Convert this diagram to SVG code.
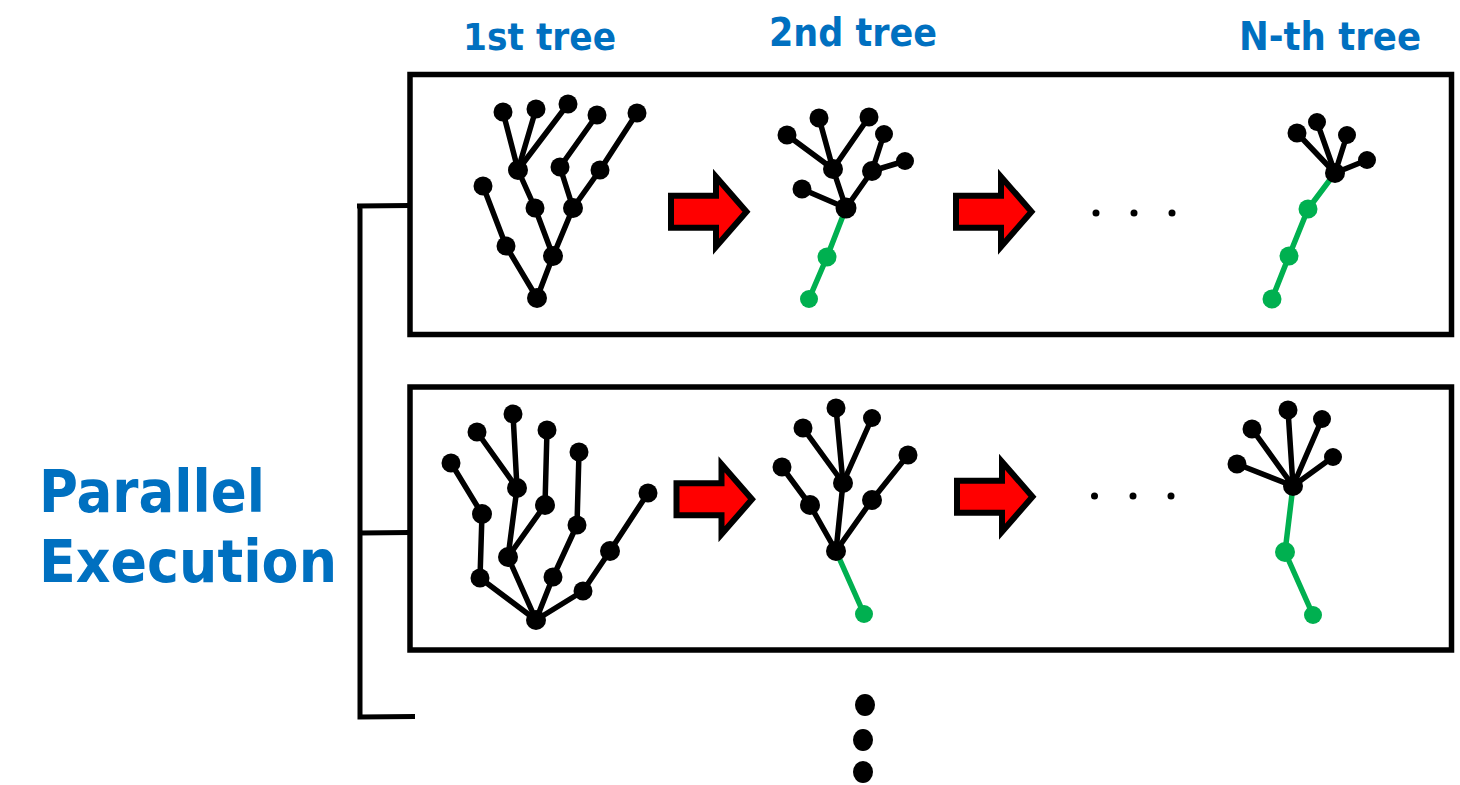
<svg xmlns="http://www.w3.org/2000/svg" xmlns:xlink="http://www.w3.org/1999/xlink" width="1460" height="785" viewBox="0 0 1460 785">
<style>
.lbl{font-family:"DejaVu Sans","Liberation Sans",sans-serif;font-weight:bold;fill:#0070C0}
.frame{fill:none;stroke:#000;stroke-width:5.5}
.br{fill:none;stroke:#000;stroke-width:5}
.e{stroke:#000;stroke-width:5.5;stroke-linecap:round}
.g{stroke:#00B050;stroke-width:5.5;stroke-linecap:round}
.n{fill:#000}
.gn{fill:#00B050}
.arr{fill:#FF0000;stroke:#000;stroke-width:6;stroke-linejoin:miter}
</style>
<defs>
<path id="arrow" class="arr" d="M3,-16 L48,-16 L48,-35 L78.5,0 L48,35 L48,16 L3,16 Z"/>
</defs>
<rect width="1460" height="785" fill="#fff"/>

<g id="labels">
<text class="lbl" x="463" y="50" font-size="38" textLength="153" lengthAdjust="spacingAndGlyphs">1st tree</text>
<text class="lbl" x="769" y="46" font-size="39" textLength="168" lengthAdjust="spacingAndGlyphs">2nd tree</text>
<text class="lbl" x="1239" y="49.5" font-size="39" textLength="182" lengthAdjust="spacingAndGlyphs">N-th tree</text>
<text class="lbl" x="39" y="511.7" font-size="59" textLength="226" lengthAdjust="spacingAndGlyphs">Parallel</text>
<text class="lbl" x="39" y="581.7" font-size="59" textLength="298" lengthAdjust="spacingAndGlyphs">Execution</text>
</g>

<g id="frames">
<rect class="frame" x="410" y="74.5" width="1041.5" height="260"/>
<rect class="frame" x="410" y="387" width="1041.5" height="263"/>
</g>

<g id="connectors">
<path class="br" d="M357,206 L410,205.5 M360,206 L360,717 L415,716.5 M360,533 L410,532.5"/>
</g>

<g id="tree-top-1">
<line class="e" x1="503" y1="112" x2="518" y2="170"/>
<line class="e" x1="536" y1="109" x2="518" y2="170"/>
<line class="e" x1="568" y1="104" x2="518" y2="170"/>
<line class="e" x1="597" y1="115" x2="560" y2="167"/>
<line class="e" x1="637" y1="113" x2="600" y2="170"/>
<line class="e" x1="518" y1="170" x2="535" y2="208"/>
<line class="e" x1="535" y1="208" x2="553" y2="256"/>
<line class="e" x1="560" y1="167" x2="573" y2="208"/>
<line class="e" x1="600" y1="170" x2="573" y2="208"/>
<line class="e" x1="573" y1="208" x2="553" y2="256"/>
<line class="e" x1="483" y1="186" x2="506" y2="246"/>
<line class="e" x1="506" y1="246" x2="537" y2="298"/>
<line class="e" x1="553" y1="256" x2="537" y2="298"/>
<circle class="n" cx="503" cy="112" r="9.5"/>
<circle class="n" cx="536" cy="109" r="9.5"/>
<circle class="n" cx="568" cy="104" r="9.5"/>
<circle class="n" cx="597" cy="115" r="9.5"/>
<circle class="n" cx="637" cy="113" r="9.5"/>
<circle class="n" cx="518" cy="170" r="10"/>
<circle class="n" cx="560" cy="167" r="9.5"/>
<circle class="n" cx="600" cy="170" r="9.5"/>
<circle class="n" cx="483" cy="186" r="9.5"/>
<circle class="n" cx="535" cy="208" r="9.5"/>
<circle class="n" cx="573" cy="208" r="10"/>
<circle class="n" cx="506" cy="246" r="9.5"/>
<circle class="n" cx="553" cy="256" r="10"/>
<circle class="n" cx="537" cy="298" r="10"/>
</g>

<g id="tree-top-2">
<line class="e" x1="787" y1="135" x2="833" y2="169"/>
<line class="e" x1="819" y1="118" x2="833" y2="169"/>
<line class="e" x1="869" y1="117" x2="833" y2="169"/>
<line class="e" x1="884" y1="134" x2="872" y2="171"/>
<line class="e" x1="905" y1="161" x2="872" y2="171"/>
<line class="e" x1="802" y1="189" x2="846" y2="208"/>
<line class="e" x1="833" y1="169" x2="846" y2="208"/>
<line class="e" x1="872" y1="171" x2="846" y2="208"/>
<line class="g" x1="846" y1="208" x2="827" y2="257"/>
<line class="g" x1="827" y1="257" x2="809" y2="299"/>
<circle class="n" cx="787" cy="135" r="9.5"/>
<circle class="n" cx="819" cy="118" r="9.5"/>
<circle class="n" cx="869" cy="117" r="9.5"/>
<circle class="n" cx="884" cy="134" r="9"/>
<circle class="n" cx="905" cy="161" r="9"/>
<circle class="n" cx="802" cy="189" r="9.5"/>
<circle class="n" cx="833" cy="169" r="10"/>
<circle class="n" cx="872" cy="171" r="10"/>
<circle class="n" cx="846" cy="208" r="10.5"/>
<circle class="gn" cx="827" cy="257" r="9.5"/>
<circle class="gn" cx="809" cy="299" r="9"/>
</g>

<g id="tree-top-n">
<line class="e" x1="1297" y1="133" x2="1335" y2="173"/>
<line class="e" x1="1317" y1="122" x2="1335" y2="173"/>
<line class="e" x1="1347" y1="135" x2="1335" y2="173"/>
<line class="e" x1="1367" y1="160" x2="1335" y2="173"/>
<line class="g" x1="1335" y1="173" x2="1308" y2="209"/>
<line class="g" x1="1308" y1="209" x2="1289" y2="256"/>
<line class="g" x1="1289" y1="256" x2="1272" y2="299"/>
<circle class="n" cx="1297" cy="133" r="9.5"/>
<circle class="n" cx="1317" cy="122" r="9"/>
<circle class="n" cx="1347" cy="135" r="9"/>
<circle class="n" cx="1367" cy="160" r="9"/>
<circle class="n" cx="1335" cy="173" r="10"/>
<circle class="gn" cx="1308" cy="209" r="9.5"/>
<circle class="gn" cx="1289" cy="256" r="9.5"/>
<circle class="gn" cx="1272" cy="299" r="9.5"/>
</g>

<g id="tree-bottom-1">
<line class="e" x1="513" y1="414" x2="517" y2="488"/>
<line class="e" x1="477" y1="432" x2="517" y2="488"/>
<line class="e" x1="517" y1="488" x2="508" y2="557"/>
<line class="e" x1="547" y1="430" x2="545" y2="505"/>
<line class="e" x1="545" y1="505" x2="508" y2="557"/>
<line class="e" x1="451" y1="463" x2="482" y2="514"/>
<line class="e" x1="482" y1="514" x2="480" y2="578"/>
<line class="e" x1="480" y1="578" x2="536" y2="620"/>
<line class="e" x1="508" y1="557" x2="536" y2="620"/>
<line class="e" x1="579" y1="452" x2="577" y2="525"/>
<line class="e" x1="577" y1="525" x2="553" y2="577"/>
<line class="e" x1="553" y1="577" x2="536" y2="620"/>
<line class="e" x1="648" y1="493" x2="610" y2="551"/>
<line class="e" x1="610" y1="551" x2="583" y2="591"/>
<line class="e" x1="583" y1="591" x2="536" y2="620"/>
<circle class="n" cx="513" cy="414" r="9.5"/>
<circle class="n" cx="477" cy="432" r="9.5"/>
<circle class="n" cx="547" cy="430" r="9.5"/>
<circle class="n" cx="451" cy="463" r="9.5"/>
<circle class="n" cx="579" cy="452" r="9.5"/>
<circle class="n" cx="648" cy="493" r="9.5"/>
<circle class="n" cx="517" cy="488" r="10"/>
<circle class="n" cx="545" cy="505" r="10"/>
<circle class="n" cx="482" cy="514" r="10"/>
<circle class="n" cx="577" cy="525" r="9.5"/>
<circle class="n" cx="610" cy="551" r="10"/>
<circle class="n" cx="508" cy="557" r="10"/>
<circle class="n" cx="553" cy="577" r="9.5"/>
<circle class="n" cx="480" cy="578" r="9.5"/>
<circle class="n" cx="583" cy="591" r="9.5"/>
<circle class="n" cx="536" cy="620" r="10"/>
</g>

<g id="tree-bottom-2">
<line class="e" x1="836" y1="408" x2="843" y2="483"/>
<line class="e" x1="803" y1="428" x2="843" y2="483"/>
<line class="e" x1="872" y1="418" x2="843" y2="483"/>
<line class="e" x1="843" y1="483" x2="836" y2="551"/>
<line class="e" x1="782" y1="467" x2="810" y2="505"/>
<line class="e" x1="810" y1="505" x2="836" y2="551"/>
<line class="e" x1="908" y1="455" x2="872" y2="500"/>
<line class="e" x1="872" y1="500" x2="836" y2="551"/>
<line class="g" x1="836" y1="551" x2="864" y2="614"/>
<circle class="n" cx="836" cy="408" r="9.5"/>
<circle class="n" cx="803" cy="428" r="9.5"/>
<circle class="n" cx="872" cy="418" r="9"/>
<circle class="n" cx="782" cy="467" r="9.5"/>
<circle class="n" cx="908" cy="455" r="9.5"/>
<circle class="n" cx="843" cy="483" r="10"/>
<circle class="n" cx="810" cy="505" r="10"/>
<circle class="n" cx="872" cy="500" r="10"/>
<circle class="n" cx="836" cy="551" r="10"/>
<circle class="gn" cx="864" cy="614" r="9"/>
</g>

<g id="tree-bottom-n">
<line class="e" x1="1237" y1="464" x2="1293" y2="486"/>
<line class="e" x1="1252" y1="429" x2="1293" y2="486"/>
<line class="e" x1="1288" y1="410" x2="1293" y2="486"/>
<line class="e" x1="1322" y1="419" x2="1293" y2="486"/>
<line class="e" x1="1333" y1="457" x2="1293" y2="486"/>
<line class="g" x1="1293" y1="486" x2="1285" y2="552"/>
<line class="g" x1="1285" y1="552" x2="1313" y2="615"/>
<circle class="n" cx="1237" cy="464" r="9.5"/>
<circle class="n" cx="1252" cy="429" r="9.5"/>
<circle class="n" cx="1288" cy="410" r="9.5"/>
<circle class="n" cx="1322" cy="419" r="9"/>
<circle class="n" cx="1333" cy="457" r="9"/>
<circle class="n" cx="1293" cy="486" r="10"/>
<circle class="gn" cx="1285" cy="552" r="10"/>
<circle class="gn" cx="1313" cy="615" r="9"/>
</g>

<g id="arrows">
<use xlink:href="#arrow" href="#arrow" transform="translate(668,211.7)"/>
<use xlink:href="#arrow" href="#arrow" transform="translate(953,211.7)"/>
<use xlink:href="#arrow" href="#arrow" transform="translate(673.5,499.3)"/>
<use xlink:href="#arrow" href="#arrow" transform="translate(954,496.7)"/>
</g>

<g id="ellipsis">
<circle class="n" cx="1096" cy="213" r="3.5"/>
<circle class="n" cx="1134" cy="213" r="3.5"/>
<circle class="n" cx="1172" cy="213" r="3.5"/>
<circle class="n" cx="1094.5" cy="496" r="3.5"/>
<circle class="n" cx="1133" cy="496" r="3.5"/>
<circle class="n" cx="1171" cy="496" r="3.5"/>
<ellipse class="n" cx="865" cy="705" rx="10" ry="11"/>
<ellipse class="n" cx="863" cy="740" rx="10" ry="11"/>
<ellipse class="n" cx="863" cy="772" rx="10" ry="11"/>
</g>
</svg>
